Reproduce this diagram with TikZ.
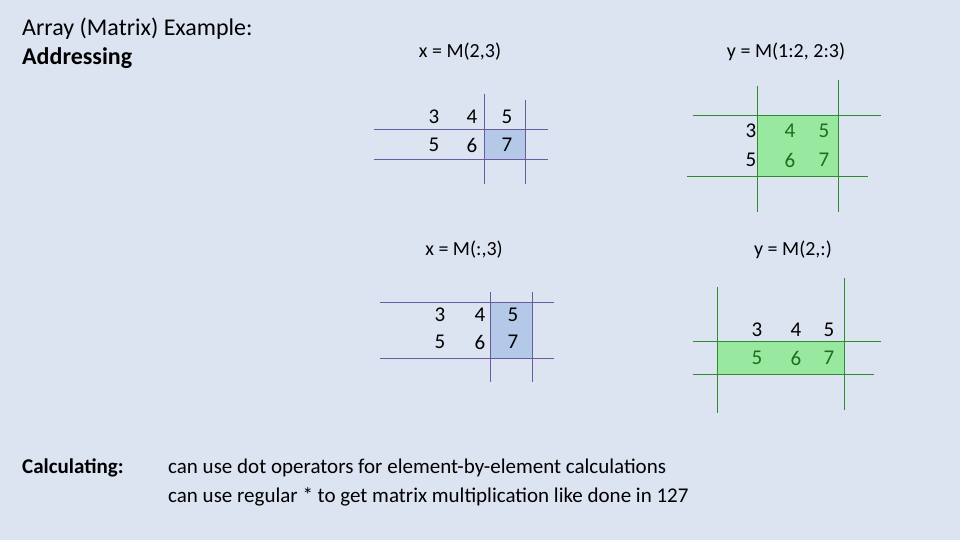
\documentclass[tikz,border=0pt]{standalone}
\usepackage{fontspec}
\setmainfont{Carlito}
\definecolor{bg}{HTML}{DCE4F2}
\definecolor{pl}{HTML}{6A5A9E}
\definecolor{gl}{HTML}{2E8B2E}
\definecolor{gf}{HTML}{98E8A0}
\definecolor{bf}{HTML}{B4C8E8}
\definecolor{gd}{HTML}{1E6E1E}
\begin{document}
\begin{tikzpicture}[x=1pt,y=-1pt,
  dig/.style={font=\fontsize{21}{24}\selectfont,inner sep=0pt},
  lab/.style={font=\fontsize{20}{24}\selectfont,inner sep=0pt},
  pline/.style={draw=pl,line width=1pt},
  gline/.style={draw=gl,line width=1pt},
  txt/.style={font=\fontsize{21}{25}\selectfont,inner sep=0pt,anchor=west}]
\fill[bg] (0,0) rectangle (960,540);
\useasboundingbox (0,0) rectangle (960,540);
\node[anchor=north west,align=left,inner sep=0pt,font=\fontsize{24}{29}\selectfont] (title) at (22,18) {Array (Matrix) Example:\\\textbf{Addressing}};
% top middle
\fill[bf] (484,130) rectangle (525,160);
\draw[pline] (374,130)--(548,130) (374,160)--(548,160) (484,94)--(484,184) (525,100)--(525,184);
\node[lab] (l1) at (460,52) {x = M(2,3)};
\node[dig] (a11) at (434,117) {3}; \node[dig] (a12) at (472,117) {4}; \node[dig] (a13) at (507,117) {5};
\node[dig] (a21) at (434,145) {5}; \node[dig] (a22) at (472,145) {6}; \node[dig] (a23) at (507,145) {7};
% top right
\fill[gf] (757,116) rectangle (838,177);
\draw[gline] (693,116)--(881,116) (687,177)--(868,177) (757,86)--(757,212) (838,80)--(838,212);
\node[lab] (l2) at (786,52) {y = M(1:2, 2:3)};
\node[dig] (b11) at (751,131) {3}; \node[dig,text=gd] (b12) at (790,131) {4}; \node[dig,text=gd] (b13) at (824,131) {5};
\node[dig] (b21) at (751,160) {5}; \node[dig,text=gd] (b22) at (790,160) {6}; \node[dig,text=gd] (b23) at (824,160) {7};
% bottom middle
\fill[bf] (490,302) rectangle (532,358);
\draw[pline] (380,302)--(554,302) (380,358)--(554,358) (490,292)--(490,382) (532,292)--(532,382);
\node[lab] (l3) at (464,250) {x = M(:,3)};
\node[dig] (c11) at (440,315) {3}; \node[dig] (c12) at (480,315) {4}; \node[dig] (c13) at (513,315) {5};
\node[dig] (c21) at (440,342) {5}; \node[dig] (c22) at (480,342) {6}; \node[dig] (c23) at (513,342) {7};
% bottom right
\fill[gf] (717,341) rectangle (844,374);
\draw[gline] (693,341)--(881,341) (693,374)--(874,374) (717,287)--(717,413) (844,278)--(844,410);
\node[lab] (l4) at (793,250) {y = M(2,:)};
\node[dig] (d11) at (757,330) {3}; \node[dig] (d12) at (796,330) {4}; \node[dig] (d13) at (829,330) {5};
\node[dig,text=gd] (d21) at (757,358) {5}; \node[dig,text=gd] (d22) at (796,358) {6}; \node[dig,text=gd] (d23) at (829,358) {7};
% bottom text
\node[txt,font=\fontsize{21}{25}\selectfont\bfseries] (calc) at (22,468) {Calculating:};
\node[txt] (t1) at (168,468) {can use dot operators for element-by-element calculations};
\node[txt] (t2) at (168,497) {can use regular * to get matrix multiplication like done in 127};
\end{tikzpicture}
\end{document}
